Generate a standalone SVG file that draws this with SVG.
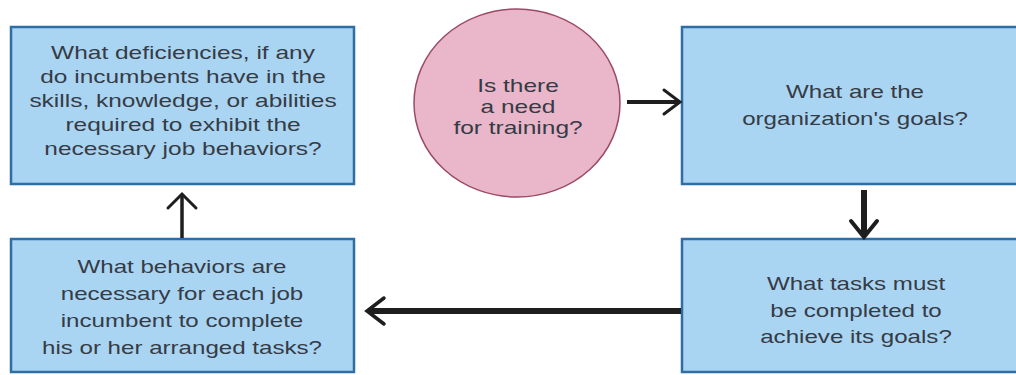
<svg xmlns="http://www.w3.org/2000/svg" width="1016" height="375" viewBox="0 0 1016 375">
<style>
.box{fill:#a9d5f2;stroke:#2f6ea5;stroke-width:2.5}
.circ{fill:#e9b7c9;stroke:#9c4a66;stroke-width:1.5}
.t{font-family:"Liberation Sans",Arial,sans-serif;font-size:18px;fill:#363b46;text-anchor:middle}
.c{fill:none;stroke:#1e1e1e;stroke-linecap:butt}
.h{fill:none;stroke:#1e1e1e;stroke-width:3;stroke-linecap:round;stroke-linejoin:miter}
</style>
<rect width="1016" height="375" fill="#ffffff"/>
<g id="node-deficiencies">
<rect class="box" x="11" y="27" width="343" height="157"/>
<text class="t" transform="translate(183 0) scale(1.36 1)"><tspan x="0" y="59">What deficiencies, if any</tspan><tspan x="0" y="83">do incumbents have in the</tspan><tspan x="0" y="107">skills, knowledge, or abilities</tspan><tspan x="0" y="131">required to exhibit the</tspan><tspan x="0" y="155">necessary job behaviors?</tspan></text>
</g>
<g id="node-need">
<ellipse class="circ" cx="517" cy="103" rx="103" ry="94"/>
<text class="t" transform="translate(518 0) scale(1.36 1)"><tspan x="0" y="92">Is there</tspan><tspan x="0" y="113">a need</tspan><tspan x="0" y="134">for training?</tspan></text>
</g>
<g id="node-goals">
<rect class="box" x="682" y="27" width="344" height="157"/>
<text class="t" transform="translate(855 0) scale(1.34 1)"><tspan x="0" y="98">What are the</tspan><tspan x="0" y="125">organization's goals?</tspan></text>
</g>
<g id="node-tasks">
<rect class="box" x="682" y="239" width="344" height="133"/>
<text class="t" transform="translate(856 0) scale(1.34 1)"><tspan x="0" y="290">What tasks must</tspan><tspan x="0" y="317">be completed to</tspan><tspan x="0" y="343">achieve its goals?</tspan></text>
</g>
<g id="node-behaviors">
<rect class="box" x="11" y="239" width="343" height="133"/>
<text class="t" transform="translate(182 0) scale(1.34 1)"><tspan x="0" y="273">What behaviors are</tspan><tspan x="0" y="300">necessary for each job</tspan><tspan x="0" y="327">incumbent to complete</tspan><tspan x="0" y="354">his or her arranged tasks?</tspan></text>
</g>
<g id="connectors">
<line class="c" x1="627" y1="102" x2="680" y2="102" stroke-width="4"/>
<polyline class="h" points="664,90 680,102 664,114"/>
<line class="c" x1="864" y1="190" x2="864" y2="236" stroke-width="6"/>
<polyline class="h" points="851,221 864,237 877,221" style="stroke-width:4"/>
<line class="c" x1="681" y1="311" x2="368" y2="311" stroke-width="6"/>
<polyline class="h" points="384,298 367,311 384,324" style="stroke-width:3.5"/>
<line class="c" x1="182" y1="238" x2="182" y2="196" stroke-width="3.5"/>
<polyline class="h" points="168,208 182,194 196,208"/>
</g>
</svg>
